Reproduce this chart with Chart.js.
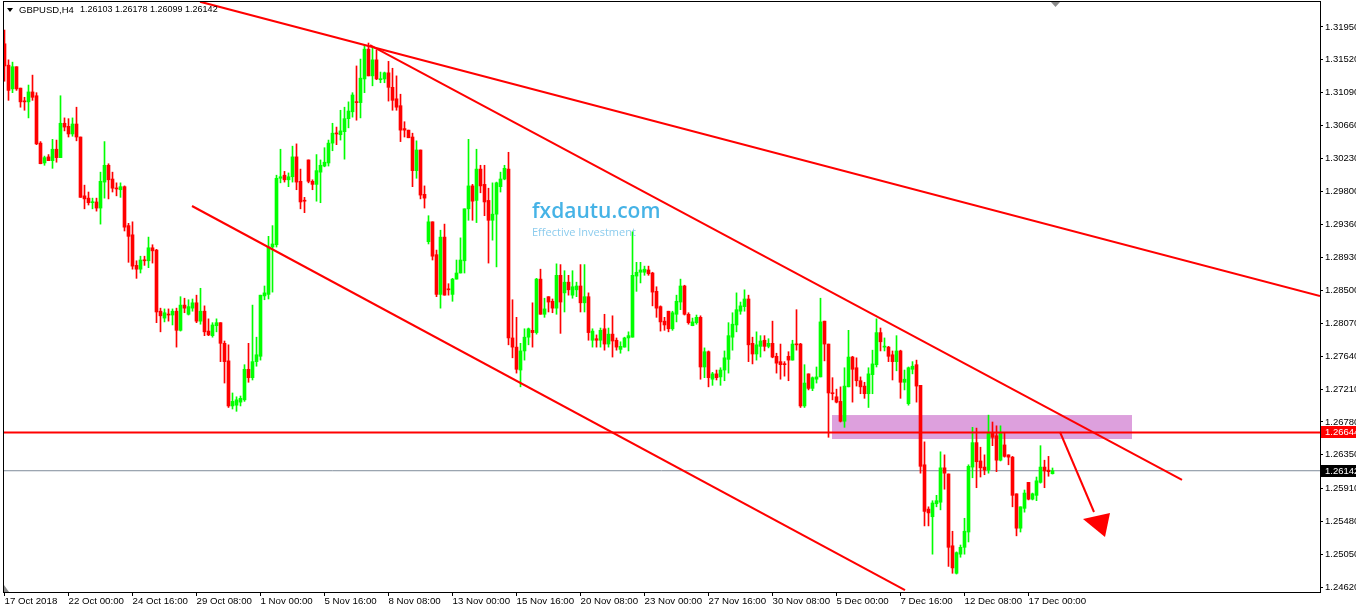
<!DOCTYPE html>
<html>
<head>
<meta charset="utf-8">
<script src="https://cdn.jsdelivr.net/npm/chart.js@4.4.1/dist/chart.umd.min.js"></script>
<style>
  html, body { margin: 0; padding: 0; background: #fff; overflow: hidden; }
</style>
</head>
<body>
<canvas id="chart" width="1356" height="609"></canvas>
<script>
// GBPUSD H4 candles, 17 Oct 2018 08:00 -> 18 Dec 2018 00:00 (one entry per bar)
var opens = [
  1.3173,1.3145,1.3114,1.3143,1.3115,1.3098,1.3097,1.3110,1.3105,1.3043,
  1.3017,1.3025,1.3020,1.3035,1.3024,1.3069,1.3065,1.3055,1.3068,1.3051,
  1.2974,1.2971,1.2965,1.2966,1.2958,1.2992,1.3014,1.2996,1.2984,1.2982,
  1.2986,1.2935,1.2923,1.2883,1.2878,1.2890,1.2889,1.2906,1.2903,1.2823,
  1.2814,1.2819,1.2818,1.2823,1.2798,1.2831,1.2819,1.2827,1.2834,1.2810,
  1.2823,1.2797,1.2791,1.2804,1.2808,1.2781,1.2758,1.2699,1.2700,1.2704,
  1.2707,1.2747,1.2736,1.2757,1.2764,1.2843,1.2845,1.2907,1.2910,1.2997,
  1.3001,1.2995,1.2999,1.3025,1.2993,1.2968,1.3021,1.2993,1.2989,1.3005,
  1.3013,1.3017,1.3043,1.3056,1.3054,1.3058,1.3075,1.3084,1.3097,1.3096,
  1.3127,1.3166,1.3131,1.3152,1.3126,1.3127,1.3135,1.3116,1.3101,1.3092,
  1.3062,1.3060,1.3051,1.3007,1.3034,1.2976,1.2914,1.2940,1.2897,1.2845,
  1.2920,1.2852,1.2845,1.2865,1.2873,1.2889,1.2957,1.2987,1.2968,1.3009,
  1.2989,1.2968,1.2942,1.2950,1.2986,1.2996,1.3009,1.2788,1.2776,1.2746,
  1.2771,1.2789,1.2798,1.2795,1.2865,1.2819,1.2842,1.2836,1.2827,1.2870,
  1.2847,1.2861,1.2844,1.2851,1.2856,1.2834,1.2842,1.2785,1.2787,1.2785,
  1.2800,1.2780,1.2793,1.2785,1.2773,1.2776,1.2788,1.2789,1.2869,1.2874,
  1.2874,1.2877,1.2873,1.2849,1.2829,1.2810,1.2823,1.2800,1.2819,1.2835,
  1.2856,1.2819,1.2804,1.2808,1.2815,1.2750,1.2770,1.2734,1.2741,1.2737,
  1.2746,1.2760,1.2789,1.2805,1.2823,1.2829,1.2839,1.2781,1.2767,1.2777,
  1.2785,1.2777,1.2781,1.2764,1.2757,1.2754,1.2764,1.2759,1.2780,1.2780,
  1.2699,1.2741,1.2722,1.2734,1.2737,1.2810,1.2780,1.2716,1.2711,1.2705,
  1.2679,1.2724,1.2763,1.2749,1.2732,1.2725,1.2715,1.2740,1.2753,1.2795,
  1.2776,1.2776,1.2766,1.2757,1.2771,1.2730,1.2702,1.2747,1.2753,1.2726,
  1.2622,1.2564,1.2554,1.2571,1.2573,1.2618,1.2610,1.2516,1.2480,1.2505,
  1.2514,1.2534,1.2619,1.2651,1.2627,1.2619,1.2615,1.2664,1.2660,1.2628,
  1.2648,1.2635,1.2632,1.2584,1.2539,1.2565,1.2599,1.2577,1.2582,1.2599,
  1.2619,1.2615,1.26103
];
var highs = [
  1.3191,1.3152,1.3149,1.3143,1.3115,1.3103,1.3119,1.3132,1.3109,1.3045,
  1.3026,1.3028,1.3048,1.3047,1.3105,1.3076,1.3075,1.3076,1.3090,1.3051,
  1.2988,1.2979,1.2971,1.2971,1.3005,1.3045,1.3016,1.3005,1.2991,1.2991,
  1.2987,1.2938,1.2940,1.2889,1.2895,1.2895,1.2920,1.2910,1.2904,1.2827,
  1.2826,1.2826,1.2826,1.2827,1.2842,1.2840,1.2838,1.2839,1.2844,1.2853,
  1.2830,1.2813,1.2808,1.2813,1.2808,1.2784,1.2779,1.2716,1.2711,1.2712,
  1.2753,1.2781,1.2831,1.2789,1.2844,1.2856,1.2921,1.2935,1.3001,1.3035,
  1.3006,1.3004,1.3039,1.3042,1.3009,1.2972,1.3021,1.2995,1.3028,1.3021,
  1.3037,1.3047,1.3069,1.3064,1.3086,1.3090,1.3097,1.3109,1.3144,1.3153,
  1.3171,1.3174,1.3168,1.3165,1.3136,1.3136,1.3150,1.3141,1.3131,1.3107,
  1.3071,1.3060,1.3056,1.3046,1.3034,1.2987,1.2948,1.2940,1.2903,1.2929,
  1.2937,1.2859,1.2866,1.2890,1.2919,1.2957,1.3048,1.2989,1.3035,1.3014,
  1.3014,1.2984,1.2991,1.2992,1.3005,1.3014,1.3031,1.2838,1.2815,1.2781,
  1.2800,1.2801,1.2834,1.2866,1.2878,1.2840,1.2842,1.2839,1.2885,1.2884,
  1.2876,1.2870,1.2876,1.2861,1.2884,1.2884,1.2847,1.2800,1.2792,1.2801,
  1.2819,1.2801,1.2817,1.2788,1.2783,1.2789,1.2796,1.2927,1.2887,1.2887,
  1.2882,1.2882,1.2874,1.2855,1.2830,1.2815,1.2823,1.2823,1.2844,1.2865,
  1.2857,1.2821,1.2814,1.2818,1.2817,1.2775,1.2771,1.2743,1.2746,1.2749,
  1.2771,1.2808,1.2821,1.2847,1.2835,1.2851,1.2844,1.2789,1.2796,1.2791,
  1.2791,1.2787,1.2810,1.2768,1.2780,1.2757,1.2770,1.2785,1.2825,1.2781,
  1.2753,1.2741,1.2737,1.2750,1.2840,1.2810,1.2780,1.2736,1.2721,1.2724,
  1.2749,1.2798,1.2764,1.2762,1.2737,1.2730,1.2749,1.2772,1.2813,1.2801,
  1.2788,1.2777,1.2771,1.2791,1.2772,1.2746,1.2750,1.2757,1.2759,1.2726,
  1.2652,1.2567,1.2575,1.2582,1.2639,1.2635,1.2610,1.2535,1.2508,1.2517,
  1.2552,1.2622,1.2671,1.2670,1.2645,1.2635,1.2687,1.2678,1.2673,1.2673,
  1.2664,1.2635,1.2633,1.2584,1.2567,1.2589,1.2599,1.2585,1.2606,1.2647,
  1.2628,1.2633,1.26178
];
var lows = [
  1.3124,1.3099,1.3109,1.3112,1.3090,1.3086,1.3076,1.3099,1.3041,1.3016,
  1.3014,1.3020,1.3010,1.3018,1.3024,1.3059,1.3051,1.3052,1.3046,1.2972,
  1.2957,1.2962,1.2957,1.2954,1.2937,1.2971,1.2970,1.2979,1.2974,1.2972,
  1.2928,1.2887,1.2878,1.2866,1.2873,1.2883,1.2880,1.2886,1.2808,1.2796,
  1.2809,1.2810,1.2805,1.2776,1.2797,1.2821,1.2818,1.2823,1.2808,1.2806,
  1.2791,1.2791,1.2789,1.2796,1.2757,1.2729,1.2697,1.2695,1.2692,1.2699,
  1.2705,1.2730,1.2733,1.2751,1.2759,1.2838,1.2839,1.2848,1.2907,1.2991,
  1.2992,1.2986,1.2992,1.2982,1.2957,1.2952,1.2991,1.2982,1.2967,1.2965,
  1.3012,1.3013,1.3033,1.3041,1.3047,1.3022,1.3063,1.3077,1.3073,1.3076,
  1.3109,1.3131,1.3118,1.3126,1.3122,1.3122,1.3098,1.3086,1.3086,1.3045,
  1.3051,1.3050,1.2986,1.2997,1.2970,1.2958,1.2911,1.2890,1.2842,1.2827,
  1.2844,1.2844,1.2836,1.2865,1.2873,1.2873,1.2942,1.2942,1.2939,1.2978,
  1.2948,1.2886,1.2916,1.2881,1.2979,1.2995,1.2779,1.2762,1.2742,1.2724,
  1.2759,1.2779,1.2776,1.2793,1.2819,1.2815,1.2822,1.2821,1.2819,1.2794,
  1.2822,1.2844,1.2840,1.2842,1.2822,1.2822,1.2785,1.2776,1.2776,1.2776,
  1.2772,1.2776,1.2763,1.2772,1.2768,1.2776,1.2771,1.2789,1.2849,1.2860,
  1.2870,1.2870,1.2830,1.2815,1.2797,1.2798,1.2796,1.2798,1.2809,1.2825,
  1.2818,1.2806,1.2804,1.2806,1.2734,1.2736,1.2724,1.2726,1.2733,1.2726,
  1.2732,1.2742,1.2772,1.2796,1.2819,1.2823,1.2757,1.2754,1.2759,1.2763,
  1.2771,1.2775,1.2762,1.2742,1.2734,1.2738,1.2732,1.2759,1.2772,1.2697,
  1.2697,1.2720,1.2719,1.2729,1.2737,1.2758,1.2658,1.2707,1.2703,1.2678,
  1.2671,1.2724,1.2704,1.2725,1.2715,1.2709,1.2697,1.2715,1.2750,1.2771,
  1.2771,1.2757,1.2733,1.2745,1.2709,1.2720,1.2700,1.2741,1.2704,1.2611,
  1.2542,1.2542,1.2505,1.2567,1.2563,1.2590,1.2489,1.2480,1.2479,1.2501,
  1.2505,1.2521,1.2605,1.2592,1.2606,1.2609,1.2611,1.2647,1.2613,1.2627,
  1.2632,1.2622,1.2567,1.2529,1.2534,1.2560,1.2576,1.2576,1.2575,1.2598,
  1.2592,1.2607,1.26099
];
var closes = [
  1.3144,1.3112,1.3143,1.3114,1.3097,1.3097,1.3110,1.3103,1.3042,1.3016,
  1.3024,1.3020,1.3035,1.3024,1.3069,1.3064,1.3055,1.3068,1.3051,1.2972,
  1.2970,1.2965,1.2966,1.2958,1.2993,1.3014,1.2995,1.2984,1.2983,1.2986,
  1.2933,1.2921,1.2882,1.2878,1.2890,1.2889,1.2906,1.2902,1.2822,1.2817,
  1.2821,1.2818,1.2823,1.2798,1.2831,1.2827,1.2829,1.2834,1.2810,1.2823,
  1.2796,1.2792,1.2805,1.2808,1.2781,1.2757,1.2699,1.2705,1.2707,1.2709,
  1.2747,1.2736,1.2757,1.2766,1.2844,1.2847,1.2907,1.2911,1.2997,1.2999,
  1.2995,1.2999,1.3025,1.2992,1.2966,1.2967,1.2993,1.2989,1.3007,1.3014,
  1.3018,1.3043,1.3056,1.3055,1.3059,1.3075,1.3085,1.3106,1.3096,1.3128,
  1.3166,1.3131,1.3152,1.3127,1.3127,1.3135,1.3116,1.3099,1.3090,1.3060,
  1.3060,1.3050,1.3007,1.3034,1.2975,1.2971,1.2940,1.2895,1.2845,1.2920,
  1.2844,1.2851,1.2865,1.2873,1.2890,1.2957,1.2987,1.2967,1.3009,1.2987,
  1.2966,1.2942,1.2950,1.2991,1.2996,1.3010,1.2788,1.2776,1.2747,1.2771,
  1.2789,1.2800,1.2795,1.2865,1.2819,1.2826,1.2835,1.2827,1.2870,1.2835,
  1.2861,1.2851,1.2855,1.2856,1.2834,1.2842,1.2795,1.2797,1.2785,1.2798,
  1.2780,1.2793,1.2784,1.2776,1.2777,1.2788,1.2791,1.2870,1.2874,1.2877,
  1.2878,1.2872,1.2848,1.2827,1.2809,1.2805,1.2800,1.2821,1.2836,1.2856,
  1.2819,1.2808,1.2809,1.2815,1.2750,1.2770,1.2736,1.2741,1.2736,1.2746,
  1.2762,1.2791,1.2806,1.2825,1.2830,1.2839,1.2779,1.2767,1.2779,1.2784,
  1.2777,1.2781,1.2763,1.2755,1.2753,1.2753,1.2759,1.2780,1.2779,1.2699,
  1.2729,1.2722,1.2736,1.2737,1.2809,1.2780,1.2716,1.2715,1.2704,1.2679,
  1.2725,1.2763,1.2747,1.2732,1.2724,1.2715,1.2741,1.2754,1.2795,1.2783,
  1.2776,1.2764,1.2757,1.2771,1.2730,1.2734,1.2749,1.2751,1.2725,1.2620,
  1.2561,1.2559,1.2572,1.2575,1.2618,1.2611,1.2514,1.2487,1.2507,1.2514,
  1.2535,1.2620,1.2651,1.2626,1.2618,1.2615,1.2664,1.2658,1.2628,1.2664,
  1.2633,1.2632,1.2582,1.2539,1.2567,1.2585,1.2577,1.2584,1.2601,1.2619,
  1.2614,1.2613,1.26142
];

// time axis: bar index of each label, and its text
var xTickIndex = [0,16,32,48,64,80,96,112,128,144,160,176,192,208,224,240,256];
var xLabels = ['17 Oct 2018','22 Oct 00:00','24 Oct 16:00','29 Oct 08:00','1 Nov 00:00',
  '5 Nov 16:00','8 Nov 08:00','13 Nov 00:00','15 Nov 16:00','20 Nov 08:00','23 Nov 00:00',
  '27 Nov 16:00','30 Nov 08:00','5 Dec 00:00','7 Dec 16:00','12 Dec 08:00','17 Dec 00:00'];

// price axis labels
var yTicks = [1.3195,1.3152,1.3109,1.3066,1.3023,1.2980,1.2936,1.2893,1.2850,1.2807,
  1.2764,1.2721,1.2678,1.2635,1.2591,1.2548,1.2505,1.2462];

// drawn objects, in (bar index, price)
var trendLines = [
  [[48.875, 1.32281], [328.875, 1.28429]],
  [[91.375, 1.31714], [294.375, 1.26021]],
  [[46.875, 1.29607], [225.125, 1.24581]]
];
var arrowLine = [[263.875, 1.26649], [272.375, 1.25602]];
var arrowHead = [[269.625, 1.25510], [276.375, 1.25589], [275.125, 1.25275]];
var levelPrice = 1.26644;
var bidPrice = 1.26142;
var zone = { from: 206.875, to: 281.875, top: 1.26871, bottom: 1.26557 };

var BULL = '#00ff00', BEAR = '#ff0000';
var FONT = '"Liberation Sans", Arial, sans-serif';

var candleColor = closes.map(function(c, i) { return c >= opens[i] ? BULL : BEAR; });
var xMin = -0.375, xMax = 328.875;

function seg(points) {
  return points.map(function(p) { return { x: p[0], y: p[1] }; });
}

var overlay = {
  id: 'overlay',
  beforeDatasetsDraw: function(chart) {
    var ctx = chart.ctx, x = chart.scales.x, y = chart.scales.y;
    var x1 = x.getPixelForValue(zone.from), x2 = x.getPixelForValue(zone.to);
    var y1 = y.getPixelForValue(zone.top), y2 = y.getPixelForValue(zone.bottom);
    ctx.save();
    ctx.fillStyle = '#dda0dd';
    ctx.fillRect(x1, y1, x2 - x1, y2 - y1);
    ctx.restore();
  },
  afterDraw: function(chart) {
    var ctx = chart.ctx, x = chart.scales.x, y = chart.scales.y, a = chart.chartArea;
    ctx.save();

    // arrow head
    ctx.fillStyle = '#ff0000';
    ctx.beginPath();
    arrowHead.forEach(function(p, k) {
      var px = x.getPixelForValue(p[0]), py = y.getPixelForValue(p[1]);
      if (k === 0) ctx.moveTo(px, py); else ctx.lineTo(px, py);
    });
    ctx.closePath();
    ctx.fill();

    // watermark
    ctx.textBaseline = 'alphabetic';
    ctx.textAlign = 'left';
    ctx.font = '600 21px "Open Sans", sans-serif';
    ctx.fillStyle = 'rgba(38,166,226,0.85)';
    ctx.fillText('fxdautu.com', 532, 218);
    ctx.font = '11px "Open Sans", sans-serif';
    ctx.fillStyle = 'rgba(110,190,232,0.8)';
    ctx.fillText('Effective Investment', 532, 236);

    // frame
    ctx.strokeStyle = '#000';
    ctx.lineWidth = 1;
    ctx.strokeRect(a.left + 0.5, a.top - 0.5, a.right - a.left, a.bottom - a.top + 1);

    // header
    var last = closes.length - 1;
    ctx.fillStyle = '#000';
    ctx.beginPath();
    ctx.moveTo(7, 8); ctx.lineTo(13, 8); ctx.lineTo(10, 12); ctx.closePath();
    ctx.fill();
    ctx.font = '9.5px ' + FONT;
    ctx.textBaseline = 'middle';
    ctx.fillText('GBPUSD,H4', 19, 10);
    ctx.font = '9px ' + FONT;
    ctx.fillText([opens[last], highs[last], lows[last], closes[last]].map(function(v) {
      return v.toFixed(5); }).join(' '), 80, 10);

    // price tags on the axis
    ctx.font = '9.5px ' + FONT;
    function tag(v, bg) {
      var py = Math.round(y.getPixelForValue(v));
      ctx.fillStyle = bg;
      ctx.fillRect(a.right + 1, py - 6, 40, 12);
      ctx.fillStyle = '#fff';
      ctx.fillText(v.toFixed(5), a.right + 5, py);
    }
    tag(levelPrice, '#ff0000');
    tag(bidPrice, '#000000');

    // shift markers
    ctx.fillStyle = '#8c8c8c';
    ctx.beginPath();
    ctx.moveTo(1051, 2); ctx.lineTo(1060, 2); ctx.lineTo(1055.5, 7); ctx.closePath();
    ctx.fill();
    ctx.beginPath();
    ctx.moveTo(4, 585); ctx.lineTo(4, 592); ctx.lineTo(9, 592); ctx.closePath();
    ctx.fill();

    ctx.restore();
  }
};

Chart.defaults.font.family = FONT;

new Chart(document.getElementById('chart').getContext('2d'), {
  type: 'bar',
  data: {
    datasets: [
      {
        type: 'line', data: seg([[xMin, bidPrice], [xMax, bidPrice]]),
        borderColor: '#7f8c9a', borderWidth: 1, pointRadius: 0, order: 9, clip: 0
      },
      {
        label: 'wick', data: lows.map(function(l, i) { return { x: i, y: [l, highs[i]] }; }),
        backgroundColor: candleColor, barThickness: 1, grouped: false, minBarLength: 1, order: 6
      },
      {
        label: 'body', data: opens.map(function(o, i) { return { x: i, y: [o, closes[i]] }; }),
        backgroundColor: candleColor, barThickness: 3, grouped: false, minBarLength: 1, order: 5
      },
      {
        type: 'line', data: seg([[xMin, levelPrice], [xMax, levelPrice]]),
        borderColor: '#ff0000', borderWidth: 2, pointRadius: 0, order: 2, clip: 0
      },
      {
        type: 'line', data: seg(trendLines[0]),
        borderColor: '#ff0000', borderWidth: 2, pointRadius: 0, order: 1, clip: 0
      },
      {
        type: 'line', data: seg(trendLines[1]),
        borderColor: '#ff0000', borderWidth: 2, pointRadius: 0, order: 1, clip: 0
      },
      {
        type: 'line', data: seg(trendLines[2]),
        borderColor: '#ff0000', borderWidth: 2, pointRadius: 0, order: 1, clip: 0
      },
      {
        type: 'line', data: seg(arrowLine),
        borderColor: '#ff0000', borderWidth: 2, pointRadius: 0, order: 1, clip: 0
      }
    ]
  },
  options: {
    responsive: false,
    animation: false,
    devicePixelRatio: 1,
    layout: { padding: { left: 3, top: 2, right: 0, bottom: 0 } },
    plugins: { legend: { display: false }, tooltip: { enabled: false } },
    scales: {
      x: {
        type: 'linear', min: xMin, max: xMax, offset: false,
        grid: { drawOnChartArea: false, drawTicks: true, tickLength: 4, color: '#000', offset: false },
        border: { display: false },
        afterBuildTicks: function(s) { s.ticks = xTickIndex.map(function(v) { return { value: v }; }); },
        afterFit: function(s) { s.height = 17; s.paddingLeft = 0; s.paddingRight = 0; },
        ticks: {
          autoSkip: false, maxRotation: 0, minRotation: 0, align: 'start',
          padding: 0, labelOffset: 0, color: '#000', font: { size: 9.7 },
          callback: function(v, i) { return xLabels[i]; }
        }
      },
      y: {
        type: 'linear', position: 'right', min: 1.24555, max: 1.32277,
        grid: { drawOnChartArea: false, tickLength: 3, color: '#000' },
        border: { display: false },
        afterBuildTicks: function(s) { s.ticks = yTicks.map(function(v) { return { value: v }; }); },
        afterFit: function(s) { s.width = 36; s.paddingTop = 0; s.paddingBottom = 0; },
        ticks: {
          padding: 2, color: '#000', font: { size: 9.5 },
          callback: function(v) { return v.toFixed(5); }
        }
      }
    }
  },
  plugins: [overlay]
});
</script>
</body>
</html>
